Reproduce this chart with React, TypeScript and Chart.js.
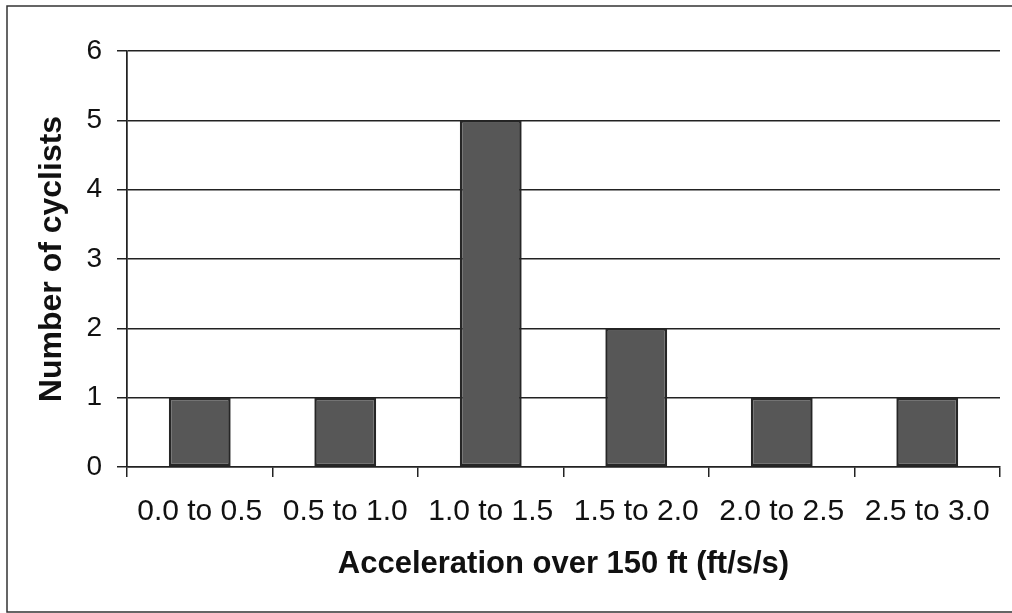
import React, { useEffect, useRef } from "react";
import { Chart, registerables } from "chart.js";

Chart.register(...registerables);

const categories = ["0.0 to 0.5", "0.5 to 1.0", "1.0 to 1.5", "1.5 to 2.0", "2.0 to 2.5", "2.5 to 3.0"];
const cyclists = [1, 1, 5, 2, 1, 1];
const yTicks = [0, 1, 2, 3, 4, 5, 6];
const xTitle = "Acceleration over 150 ft (ft/s/s)";
const yTitle = "Number of cyclists";

const FONT = "'Liberation Sans', Arial, sans-serif";
const INK = "#222222";

const framePlugin = {
  id: "frame",
  beforeDraw(chart: any) {
    const ctx = chart.ctx;
    ctx.save();
    ctx.fillStyle = "#ffffff";
    ctx.fillRect(0, 0, chart.width, chart.height);
    ctx.strokeStyle = "#333333";
    ctx.lineWidth = 1.5;
    ctx.beginPath();
    ctx.moveTo(chart.width + 5, 6);
    ctx.lineTo(7, 6);
    ctx.lineTo(7, 612);
    ctx.lineTo(chart.width + 5, 612);
    ctx.stroke();
    ctx.restore();
  },
};

export default function App() {
  const ref = useRef<HTMLCanvasElement | null>(null);

  useEffect(() => {
    if (!ref.current) return;
    const chart = new Chart(ref.current, {
      type: "bar",
      data: {
        labels: categories,
        datasets: [
          {
            data: cyclists,
            backgroundColor: "#575757",
            borderColor: "#262626",
            borderWidth: 2.5,
            borderSkipped: false,
            categoryPercentage: 1,
            barPercentage: 0.425,
          },
        ],
      },
      options: {
        animation: false,
        responsive: false,
        devicePixelRatio: 1,
        layout: { padding: { top: 51, right: 12, left: 0, bottom: 0 } },
        plugins: { legend: { display: false }, tooltip: { enabled: false } },
        scales: {
          x: {
            offset: true,
            grid: {
              offset: true,
              drawOnChartArea: true,
              color: (c: any) => (c.index === 0 || c.index === categories.length ? INK : "rgba(0,0,0,0)"),
              tickColor: INK,
              tickLength: 10,
              lineWidth: 1.5,
            },
            border: { display: true, color: INK, width: 1.5 },
            ticks: {
              color: "#111111",
              font: { family: FONT, size: 30 },
              padding: 17,
              maxRotation: 0,
              autoSkip: false,
            },
            title: {
              display: true,
              text: xTitle,
              color: "#111111",
              font: { family: FONT, size: 31, weight: "bold" },
              padding: { top: 0, bottom: 30 },
            },
            afterFit: (s: any) => {
              s.height = 146;
              s.paddingLeft = 0;
              s.paddingRight = 0;
            },
          },
          y: {
            min: 0,
            max: 6,
            afterBuildTicks: (s: any) => {
              s.ticks = yTicks.map((v) => ({ value: v }));
            },
            grid: { color: INK, tickColor: INK, tickLength: 10, lineWidth: 1.5 },
            border: { display: true, color: INK, width: 1.5 },
            ticks: {
              color: "#111111",
              font: { family: FONT, size: 28 },
              padding: 15,
            },
            title: {
              display: true,
              text: yTitle,
              color: "#111111",
              font: { family: FONT, size: 32, weight: "bold" },
              padding: { top: 33, bottom: 0 },
            },
            afterFit: (s: any) => {
              s.width = 127;
              s.paddingTop = 0;
              s.paddingBottom = 0;
            },
          },
        },
      },
      plugins: [framePlugin],
    } as any);
    return () => chart.destroy();
  }, []);

  return (
    <div style={{ position: "absolute", left: 0, top: 0, width: 1012, height: 613, background: "#fff" }}>
      <canvas ref={ref} width={1012} height={613} style={{ display: "block", width: 1012, height: 613 }} />
    </div>
  );
}
